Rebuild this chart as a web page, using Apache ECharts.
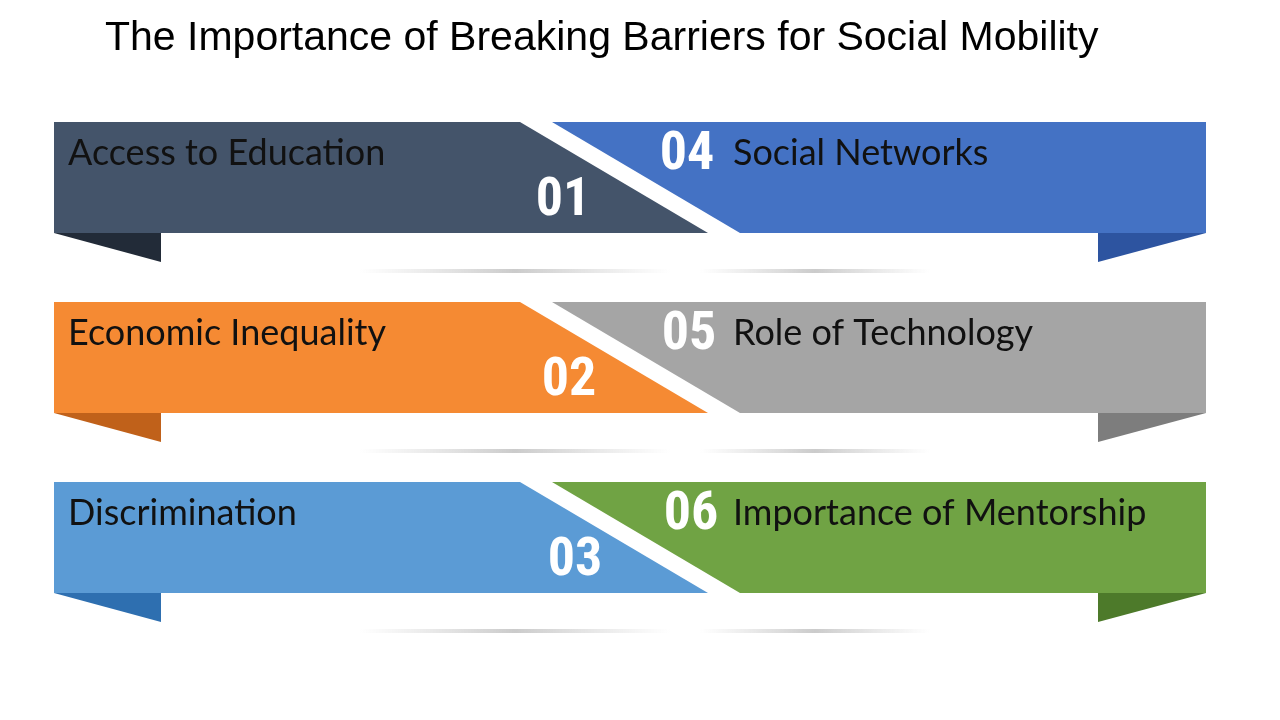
<!DOCTYPE html>
<html><head><meta charset="utf-8">
<script src="https://cdn.jsdelivr.net/npm/echarts@6/dist/echarts.min.js"></script>
<style>html,body{margin:0;padding:0;background:#fff}#c{width:1280px;height:720px}</style>
</head><body><div id="c"></div>
<script>
const title = 'The Importance of Breaking Barriers for Social Mobility';
const leftLabels = ['Access to Education', 'Economic Inequality', 'Discrimination'];
const rightLabels = ['Social Networks', 'Role of Technology', 'Importance of Mentorship'];
const leftNumbers = ['01', '02', '03'];
const rightNumbers = ['04', '05', '06'];
const leftColors = ['#44546a', '#f58a33', '#5b9bd5'];
const leftTail = ['#222b38', '#c0611a', '#2e6fb0'];
const rightColors = ['#4472c4', '#a5a5a5', '#70a344'];
const rightTail = ['#2d54a0', '#7d7d7d', '#4d7a2a'];

const chart = echarts.init(document.getElementById('c'));
const numFont = '"Liberation Sans Narrow","Arial Narrow","Roboto Condensed","Liberation Sans",sans-serif';
const labFont = 'Lato,"Open Sans",sans-serif';

function renderRow(params, api) {
  const i = api.value(0);
  const top = 122 + i * 180, bot = top + 111;
  const P = (x, y) => api.coord([x, y]);
  const poly = (pts, fill) => ({ type: 'polygon', shape: { points: pts.map(p => P(p[0], p[1])) }, style: { fill } });
  const txt = (x, y, t, size, bold, font, align) => {
    const c = P(x, y);
    return { type: 'text', x: c[0], y: c[1], style: { text: t, fill: bold ? '#fff' : '#111', font: (bold ? 'bold ' : '') + size + 'px ' + font, textAlign: align || 'left', textVerticalAlign: 'middle' } };
  };
  const sh = (x1, x2) => {
    const a = P(x1, bot + 38), b = P(x2, bot + 38);
    return { type: 'rect', shape: { x: a[0], y: a[1] - 2, width: b[0] - a[0], height: 4 },
      style: { fill: new echarts.graphic.LinearGradient(0, 0, 1, 0, [{offset:0,color:'rgba(200,200,200,0)'},{offset:0.5,color:'rgba(190,190,190,0.8)'},{offset:1,color:'rgba(200,200,200,0)'}]) } };
  };
  return { type: 'group', children: [
    sh(360, 670), sh(700, 930),
    poly([[54, bot], [161, bot], [161, bot + 29]], leftTail[i]),
    poly([[1098, bot], [1206, bot], [1098, bot + 29]], rightTail[i]),
    poly([[54, top], [520, top], [708, bot], [54, bot]], leftColors[i]),
    poly([[552, top], [1206, top], [1206, bot], [740, bot]], rightColors[i]),
    txt(68, top + 31, leftLabels[i], 36, false, labFont),
    txt(733, top + 31, rightLabels[i], 36, false, labFont),
    txt(563 + i * 6, top + 79, leftNumbers[i], 54, true, numFont, 'center'),
    txt(687 + i * 2, top + 33, rightNumbers[i], 54, true, numFont, 'center')
  ]};
}

chart.setOption({
  animation: false,
  title: { text: title, left: 100, top: 13, textStyle: { fontFamily: '"Liberation Sans",Arial,sans-serif', fontWeight: 'normal', fontSize: 41, color: '#000' } },
  grid: { left: 0, right: 0, top: 0, bottom: 0 },
  xAxis: { type: 'value', min: 0, max: 1280, show: false },
  yAxis: { type: 'value', min: 0, max: 720, inverse: true, show: false },
  series: [{ type: 'custom', renderItem: renderRow, data: leftLabels.map((_, i) => [i]) }]
});
</script></body></html>
